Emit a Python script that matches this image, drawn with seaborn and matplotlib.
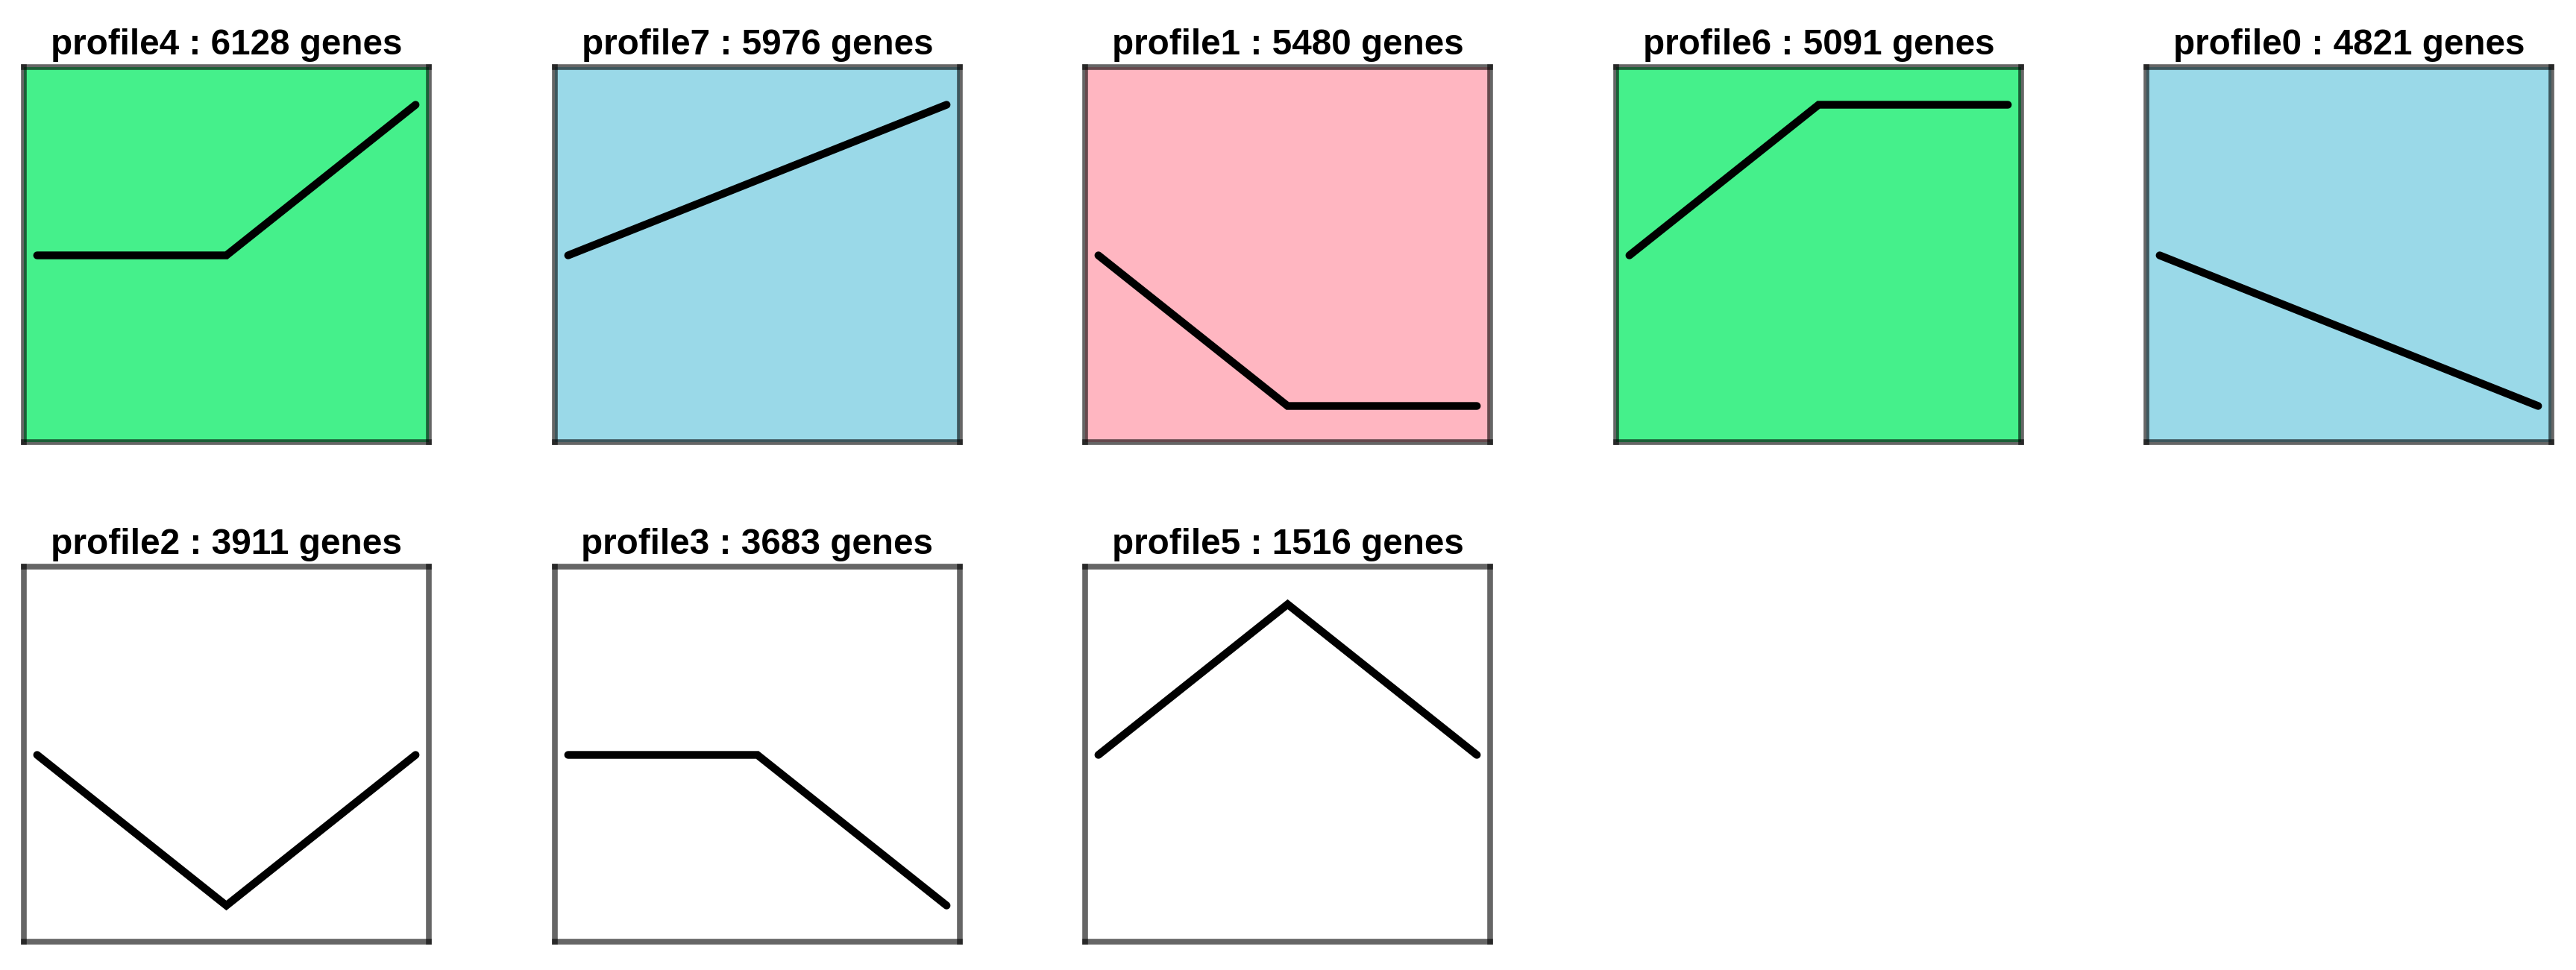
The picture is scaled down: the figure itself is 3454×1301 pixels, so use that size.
import matplotlib
matplotlib.use("Agg")
import matplotlib.pyplot as plt
import seaborn as sns
import pandas as pd

# ---- data ----
profile_names = ["profile4", "profile7", "profile1", "profile6", "profile0",
                 "profile2", "profile3", "profile5"]
gene_counts = [6128, 5976, 5480, 5091, 4821, 3911, 3683, 1516]
time_points = [0, 1, 2]
profile_values = [
    [0, 0, 1],
    [0, 0.5, 1],
    [0, -1, -1],
    [0, 1, 1],
    [0, -0.5, -1],
    [0, -1, 0],
    [0, 0, -1],
    [0, 1, 0],
]
panel_colors = ["#45F08B", "#9AD9E8", "#FFB6C1", "#45F08B", "#9AD9E8",
                "#FFFFFF", "#FFFFFF", "#FFFFFF"]

sns.set_theme(style="white")
plt.rcParams['font.family'] = ['Liberation Sans', 'DejaVu Sans']

W, H = 3455, 1301
fig = plt.figure(figsize=(W / 100, H / 100), dpi=100)
fig.patch.set_facecolor("white")

col_left = [32, 744, 1455, 2167, 2878]
row_top = [90, 760]
ax_w, ax_h = 543, 503

target_title_w = 470
for i, (name, cnt, vals, col) in enumerate(zip(profile_names, gene_counts,
                                               profile_values, panel_colors)):
    r, c = divmod(i, 5)
    left = col_left[c]
    top = row_top[r]
    ax = fig.add_axes([left / W, 1 - (top + ax_h) / H, ax_w / W, ax_h / H])
    ax.set_facecolor(col)
    df = pd.DataFrame({"t": time_points, "v": vals})
    sns.lineplot(data=df, x="t", y="v", ax=ax, color="black", linewidth=7.5,
                 solid_capstyle="round", solid_joinstyle="miter")
    ax.set_xlim(-0.07, 2.07)
    ax.set_ylim(-1.24, 1.25)
    ax.set_xticks([])
    ax.set_yticks([])
    ax.set_xlabel("")
    ax.set_ylabel("")
    for sp in ax.spines.values():
        sp.set_visible(True)
        sp.set_color((0, 0, 0, 0.6))
        sp.set_linewidth(5.5)
    t = ax.text(0.5, 1 + 17 / ax_h, f"{name} : {cnt} genes",
                transform=ax.transAxes, ha="center", va="baseline",
                fontsize=38, fontweight="bold", color="black")
    fig.canvas.draw()
    bb = t.get_window_extent()
    t.set_fontsize(38 * target_title_w / bb.width)

fig.savefig("out.png", dpi=100, facecolor="white")
